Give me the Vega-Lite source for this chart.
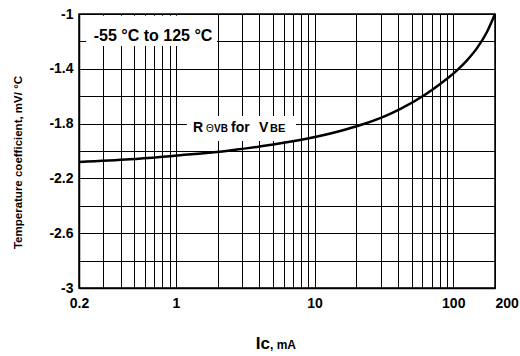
{
  "$schema": "https://vega.github.io/schema/vega-lite/v6.json",
  "autosize": "none",
  "width": 416,
  "height": 274,
  "padding": {"left": 79, "top": 14, "right": 25, "bottom": 68},
  "background": "white",
  "config": {
    "font": "Liberation Sans",
    "view": {"stroke": "#000", "strokeWidth": 1.5},
    "axis": {"labelFont": "Liberation Sans", "titleFont": "Liberation Sans"}
  },
  "encoding": {
    "x": {"field": "ic", "type": "quantitative",
      "scale": {"type": "log", "domain": [0.2, 200], "nice": false},
      "axis": {
        "title": null,
        "values": [0.2,0.3,0.4,0.5,0.6,0.7,0.8,0.9,1,2,3,4,5,6,7,8,9,10,20,30,40,50,60,70,80,90,100,200],
        "labelExpr": "indexof([0.2,1,10,100,200], datum.value) >= 0 ? toString(datum.value) : ''",
        "labelOverlap": false, "labelFlush": false,
        "labelAlign": {"condition": {"test": "datum.value == 200", "value": "left"}, "value": "center"},
        "labelFontSize": 14, "labelFontWeight": "bold", "labelColor": "#000", "labelPadding": 8,
        "ticks": false, "domainColor": "#000", "domainWidth": 1.5,
        "grid": true, "gridColor": "#000", "gridWidth": 1, "gridOpacity": 1
      }},
    "y": {"field": "tc", "type": "quantitative",
      "scale": {"domain": [-3, -1], "nice": false, "zero": false},
      "axis": {
        "title": "Temperature coefficient, mV/ °C",
        "titleFontSize": 11.5, "titleFontWeight": "bold", "titleColor": "#000",
        "titleX": -61, "titleY": 148, "titleBaseline": "middle", "titleAngle": -90,
        "values": [-3,-2.8,-2.6,-2.4,-2.2,-2,-1.8,-1.6,-1.4,-1.2,-1],
        "labelExpr": "indexof([-3,-2.6,-2.2,-1.8,-1.4,-1], datum.value) >= 0 ? toString(datum.value) : ''",
        "labelOverlap": false, "labelFlush": false,
        "labelFontSize": 14, "labelFontWeight": "bold", "labelColor": "#000", "labelPadding": 6,
        "ticks": false, "domainColor": "#000", "domainWidth": 1.5,
        "grid": true, "gridColor": "#000", "gridWidth": 1, "gridOpacity": 1
      }}
  },
  "layer": [
    {
      "data": {"values": [
        {"x1": 0.225, "x2": 1.98, "y1": -1.012, "y2": -1.234},
        {"x1": 1.2, "x2": 7.34, "y1": -1.745, "y2": -1.927}
      ]},
      "mark": {"type": "rect", "fill": "white", "stroke": null},
      "encoding": {
        "x": {"field": "x1", "type": "quantitative"},
        "x2": {"field": "x2"},
        "y": {"field": "y1", "type": "quantitative"},
        "y2": {"field": "y2"}
      }
    },
    {
      "data": {"values": [
        {"ic": 0.2, "tc": -2.08},
        {"ic": 0.467, "tc": -2.061},
        {"ic": 0.98, "tc": -2.034},
        {"ic": 2.08, "tc": -2.005},
        {"ic": 4.04, "tc": -1.967},
        {"ic": 7.85, "tc": -1.92},
        {"ic": 15.3, "tc": -1.854},
        {"ic": 22, "tc": -1.807},
        {"ic": 32.2, "tc": -1.745},
        {"ic": 41.3, "tc": -1.694},
        {"ic": 62.5, "tc": -1.589},
        {"ic": 80, "tc": -1.512},
        {"ic": 106.4, "tc": -1.411},
        {"ic": 125.6, "tc": -1.338},
        {"ic": 148.3, "tc": -1.249},
        {"ic": 175, "tc": -1.131},
        {"ic": 200, "tc": -1.0}
      ]},
      "mark": {"type": "line", "color": "#000", "strokeWidth": 2.5, "interpolate": "monotone"},
      "encoding": {}
    },
    {
      "data": {"values": [{"x": 0.684, "y": -1.16, "t": "-55 °C to 125 °C"}]},
      "mark": {"type": "text", "fontSize": 16, "fontWeight": "bold", "color": "#000", "align": "center", "baseline": "middle"},
      "encoding": {"x": {"field": "x", "type": "quantitative"}, "y": {"field": "y", "type": "quantitative"}, "text": {"field": "t"}}
    },
    {
      "data": {"values": [{"x": 1.33, "y": -1.832, "t": "R"}]},
      "mark": {"type": "text", "fontSize": 14, "fontWeight": "bold", "color": "#000", "align": "left", "baseline": "middle"},
      "encoding": {"x": {"field": "x", "type": "quantitative"}, "y": {"field": "y", "type": "quantitative"}, "text": {"field": "t"}}
    },
    {
      "data": {"values": [{"x": 1.33, "y": -1.832, "t": "Θ"}]},
      "mark": {"type": "text", "fontSize": 10, "fontWeight": "normal", "color": "#000", "align": "left", "baseline": "middle", "dx": 13, "dy": 1},
      "encoding": {"x": {"field": "x", "type": "quantitative"}, "y": {"field": "y", "type": "quantitative"}, "text": {"field": "t"}}
    },
    {
      "data": {"values": [{"x": 1.33, "y": -1.832, "t": "VB"}]},
      "mark": {"type": "text", "fontSize": 10, "fontWeight": "bold", "color": "#000", "align": "left", "baseline": "middle", "dx": 21, "dy": 1},
      "encoding": {"x": {"field": "x", "type": "quantitative"}, "y": {"field": "y", "type": "quantitative"}, "text": {"field": "t"}}
    },
    {
      "data": {"values": [{"x": 1.33, "y": -1.832, "t": "for"}]},
      "mark": {"type": "text", "fontSize": 14, "fontWeight": "bold", "color": "#000", "align": "left", "baseline": "middle", "dx": 38},
      "encoding": {"x": {"field": "x", "type": "quantitative"}, "y": {"field": "y", "type": "quantitative"}, "text": {"field": "t"}}
    },
    {
      "data": {"values": [{"x": 1.33, "y": -1.832, "t": "V"}]},
      "mark": {"type": "text", "fontSize": 14, "fontWeight": "bold", "color": "#000", "align": "left", "baseline": "middle", "dx": 66},
      "encoding": {"x": {"field": "x", "type": "quantitative"}, "y": {"field": "y", "type": "quantitative"}, "text": {"field": "t"}}
    },
    {
      "data": {"values": [{"x": 1.33, "y": -1.832, "t": "BE"}]},
      "mark": {"type": "text", "fontSize": 11, "fontWeight": "bold", "color": "#000", "align": "left", "baseline": "middle", "dx": 77, "dy": 1},
      "encoding": {"x": {"field": "x", "type": "quantitative"}, "y": {"field": "y", "type": "quantitative"}, "text": {"field": "t"}}
    },
    {
      "data": {"values": [{"x": 4.77, "y": -3.445, "t": "Ic"}]},
      "mark": {"type": "text", "fontSize": 17, "fontWeight": "bold", "color": "#000", "align": "right", "baseline": "alphabetic"},
      "encoding": {"x": {"field": "x", "type": "quantitative"}, "y": {"field": "y", "type": "quantitative"}, "text": {"field": "t"}}
    },
    {
      "data": {"values": [{"x": 4.77, "y": -3.445, "t": ", mA"}]},
      "mark": {"type": "text", "fontSize": 12, "fontWeight": "bold", "color": "#000", "align": "left", "baseline": "alphabetic"},
      "encoding": {"x": {"field": "x", "type": "quantitative"}, "y": {"field": "y", "type": "quantitative"}, "text": {"field": "t"}}
    }
  ]
}
